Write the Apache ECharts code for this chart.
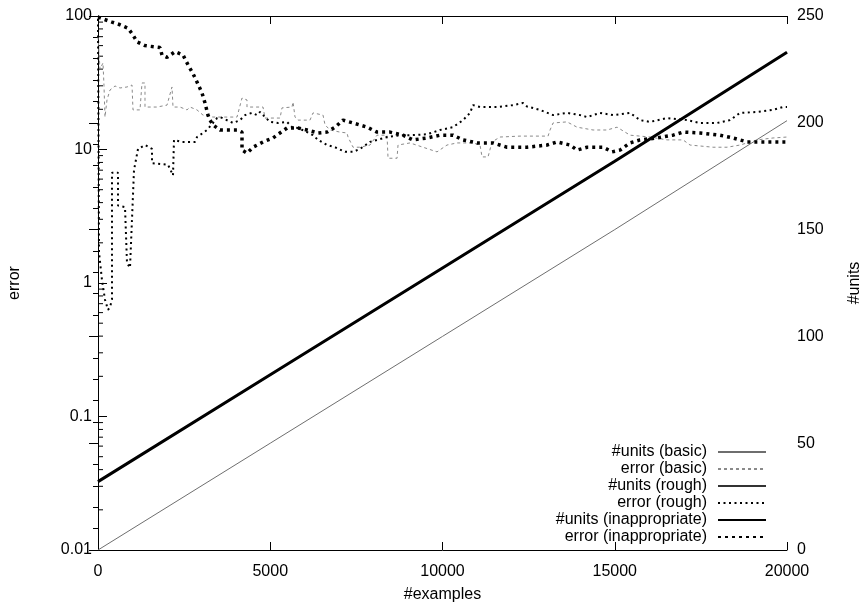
<!DOCTYPE html>
<html>
<head>
<meta charset="utf-8">
<script src="https://cdn.jsdelivr.net/npm/echarts@6/dist/echarts.min.js"></script>
<style>html,body{margin:0;padding:0;background:#fff}#c{width:865px;height:605px}</style>
</head>
<body>
<div id="c"></div>
<script>
// ---- data (x = #examples) ----
const unitsBasic = [[0,0],[5000,50],[10000,100],[15000,150],[20000,201]];
const unitsRough = [[0,32],[5000,82],[10000,132],[15000,182],[20000,233]];
const unitsInappropriate = [[0,32],[5000,82],[10000,132],[15000,182],[20000,233]];

const errorBasic = [[0,70],[58,40],[145,44.5],[174,30],[203,17.5],[261,23.5],[348,27.9],[494,29.9],[639,28.9],[842,29.4],[987,30.4],[1016,19.8],[1219,19.8],[1277,31.5],[1364,31.5],[1364,20.8],[1713,20.8],[2003,21.5],[2148,29.4],[2177,20.8],[2380,20.8],[2584,19.8],[2671,20.8],[2874,19.8],[3048,18.1],[3338,17.5],[3629,17.5],[4035,17.5],[4180,24.3],[4325,23.5],[4325,20.8],[4790,20.8],[4848,17.2],[5284,17.2],[5341,20.5],[5632,20.8],[5661,22.7],[5719,17.5],[5806,16.6],[6154,16.6],[6241,18.8],[6532,18.1],[6590,15.3],[6735,14.0],[7025,13.5],[7228,13.3],[7258,12.4],[7403,10.4],[7606,10.4],[7896,10.8],[8099,12.8],[8390,12.8],[8419,8.6],[8680,8.6],[8709,10.8],[9057,11.2],[9841,9.6],[10131,10.8],[10422,11.2],[10886,11.2],[11089,10.8],[11147,8.8],[11322,8.8],[11438,11.4],[11670,12.4],[12251,12.6],[12628,12.6],[13064,12.6],[13122,14.0],[13209,15.8],[13615,16.1],[13905,14.7],[14370,14.0],[14777,14.0],[15067,14.7],[15444,12.8],[16025,12.4],[16518,11.8],[16983,11.8],[17186,10.8],[17853,10.4],[18260,10.4],[18637,10.8],[19131,11.8],[19595,12.2],[20000,12.4]];

const errorRough = [[0,95],[29,1.7],[116,1.05],[203,0.75],[290,0.63],[348,0.66],[406,0.75],[406,6.7],[581,6.7],[581,3.8],[784,3.7],[842,1.41],[929,1.3],[987,3.0],[1045,7.0],[1161,10.1],[1364,10.8],[1568,10.1],[1568,7.9],[2032,7.7],[2177,6.4],[2206,11.8],[2439,11.4],[2816,11.4],[2874,12.4],[3048,13.3],[3164,14.0],[3338,15.8],[3455,17.2],[3542,17.5],[3919,15.8],[4122,16.6],[4267,18.1],[4471,18.8],[4616,18.1],[4703,19.1],[4848,17.5],[4993,16.1],[5225,15.8],[5487,16.1],[5632,14.7],[5806,14.5],[6067,13.5],[6241,12.8],[6387,11.8],[6648,10.8],[6880,10.4],[7170,9.6],[7403,9.6],[7606,10.1],[7896,11.4],[8390,12.4],[8767,12.8],[9057,12.8],[9551,13.0],[9928,14.0],[10306,14.7],[10596,16.6],[10799,18.8],[10886,21.5],[11089,20.8],[11583,20.8],[12047,21.5],[12338,22.3],[12454,21.0],[12831,19.8],[13209,18.1],[13615,18.8],[13993,18.1],[14196,17.5],[14574,18.8],[14951,18.1],[15444,18.8],[15734,16.6],[16025,16.1],[16518,17.2],[17099,16.6],[17476,15.8],[17969,15.8],[18347,16.6],[18637,18.8],[19131,19.1],[19595,19.8],[19886,20.8],[20000,20.8]];

const errorInappropriate = [[0,98],[58,95],[406,90],[639,86],[871,81],[1016,72],[1132,64],[1364,60],[1800,58],[1858,51],[2003,49],[2235,54],[2468,51],[2613,43],[2758,37],[2874,32],[3019,26.5],[3106,22.3],[3193,18.1],[3251,16.6],[3338,15.3],[3542,14.0],[4035,14.0],[4180,13.5],[4180,9.9],[4325,9.4],[4500,10.4],[4790,11.4],[5080,12.2],[5487,14.5],[5806,14.5],[6067,14.0],[6387,13.3],[6648,13.5],[6880,14.7],[7112,16.6],[7403,15.8],[7809,14.7],[8099,13.5],[8477,13.5],[8854,12.8],[9144,11.8],[9551,12.2],[9928,12.8],[10306,12.8],[10596,11.8],[11002,11.2],[11467,11.2],[11873,10.4],[12454,10.4],[13034,10.8],[13325,11.4],[13702,10.8],[13905,9.9],[14196,10.4],[14661,10.4],[14922,9.6],[15154,9.9],[15444,11.2],[15734,11.8],[16228,12.2],[16692,12.8],[16983,13.5],[17476,13.3],[18057,12.8],[18434,12.2],[18840,11.4],[19421,11.4],[20000,11.4]];

const seriesNames = ['#units (basic)','error (basic)','#units (rough)','error (rough)','#units (inappropriate)','error (inappropriate)'];
const logMinorTicks = [];
for (let e=-2;e<2;e++){ for(let m=2;m<=9;m++){ logMinorTicks.push(m*Math.pow(10,e)); } }

const FONT = 'Liberation Sans';
const chart = echarts.init(document.getElementById('c'), null, {renderer:'canvas'});
const axisLine = {show:true, lineStyle:{color:'#000', width:1}};
const lab = {color:'#000', fontFamily:FONT, fontSize:16};

chart.setOption({
  animation:false,
  backgroundColor:'#fff',
  grid:{left:98, right:78, top:16, bottom:55, containLabel:false, outerBoundsMode:'none'},
  legend:{
    data:seriesNames, orient:'vertical', right:93, bottom:55, align:'right',
    itemWidth:48, itemHeight:14, itemGap:1,
    itemStyle:{opacity:0},
    textStyle:{color:'#000', fontFamily:FONT, fontSize:16, lineHeight:15, padding:[0,6,0,0]}
  },
  xAxis:[
    {type:'value', min:0, max:20000, interval:5000, position:'bottom',
     axisLine, axisTick:{inside:true, length:8, lineStyle:{color:'#000'}},
     axisLabel:Object.assign({margin:14, formatter:v=>String(v)}, lab), splitLine:{show:false},
     name:'#examples', nameLocation:'middle', nameGap:37, nameTextStyle:lab},
    {type:'value', min:0, max:20000, interval:5000, position:'top',
     axisLine, axisTick:{inside:true, length:8, lineStyle:{color:'#000'}},
     axisLabel:{show:false}, splitLine:{show:false}}
  ],
  yAxis:[
    {type:'log', logBase:10, min:0.01, max:100, position:'left',
     axisLine, axisTick:{inside:true, length:9, lineStyle:{color:'#000'}},
     axisLabel:Object.assign({margin:6, formatter:v=>String(+(+v).toPrecision(3))}, lab),
     splitLine:{show:false},
     name:'error', nameLocation:'middle', nameGap:75, nameTextStyle:lab},
    {type:'value', min:0, max:250, interval:50, position:'right',
     axisLine, axisTick:{inside:true, length:9, lineStyle:{color:'#000'}},
     minorTick:{show:true, splitNumber:5, length:5, lineStyle:{color:'#000'}},
     axisLabel:Object.assign({margin:10, formatter:v=>String(v)}, lab), splitLine:{show:false},
     name:'#units', nameLocation:'middle', nameGap:60, nameTextStyle:lab}
  ],
  series:[
    {name:seriesNames[0], type:'line', yAxisIndex:1, data:unitsBasic, symbol:'none',
     lineStyle:{color:'#6e6e6e', width:1}, itemStyle:{color:'#6e6e6e'}},
    {name:seriesNames[1], type:'line', yAxisIndex:0, data:errorBasic, symbol:'none',
     lineStyle:{color:'#8a8a8a', width:1, type:[3,3]}, itemStyle:{color:'#8a8a8a'}},
    {name:seriesNames[2], type:'line', yAxisIndex:1, data:unitsRough, symbol:'none',
     lineStyle:{color:'#333', width:1.5}, itemStyle:{color:'#333'}},
    {name:seriesNames[3], type:'line', yAxisIndex:0, data:errorRough, symbol:'none',
     lineStyle:{color:'#000', width:2, type:[2,3.5]}, itemStyle:{color:'#000'}},
    {name:seriesNames[4], type:'line', yAxisIndex:1, data:unitsInappropriate, symbol:'none',
     lineStyle:{color:'#000', width:3}, itemStyle:{color:'#000'}},
    {name:seriesNames[5], type:'line', yAxisIndex:0, data:errorInappropriate, symbol:'none',
     lineStyle:{color:'#000', width:3.5, type:[3,4]}, itemStyle:{color:'#000'}},
    {name:'minorticks', type:'custom', yAxisIndex:0, silent:true,
     data:logMinorTicks.map(v=>[0,v]), encode:{x:0,y:1},
     renderItem:(params, api)=>{
       const p = api.coord([0, api.value(1)]);
       return {type:'line', shape:{x1:p[0], y1:p[1], x2:p[0]+5, y2:p[1]}, style:{stroke:'#000', lineWidth:1}};
     }}
  ]
});
</script>
</body>
</html>
